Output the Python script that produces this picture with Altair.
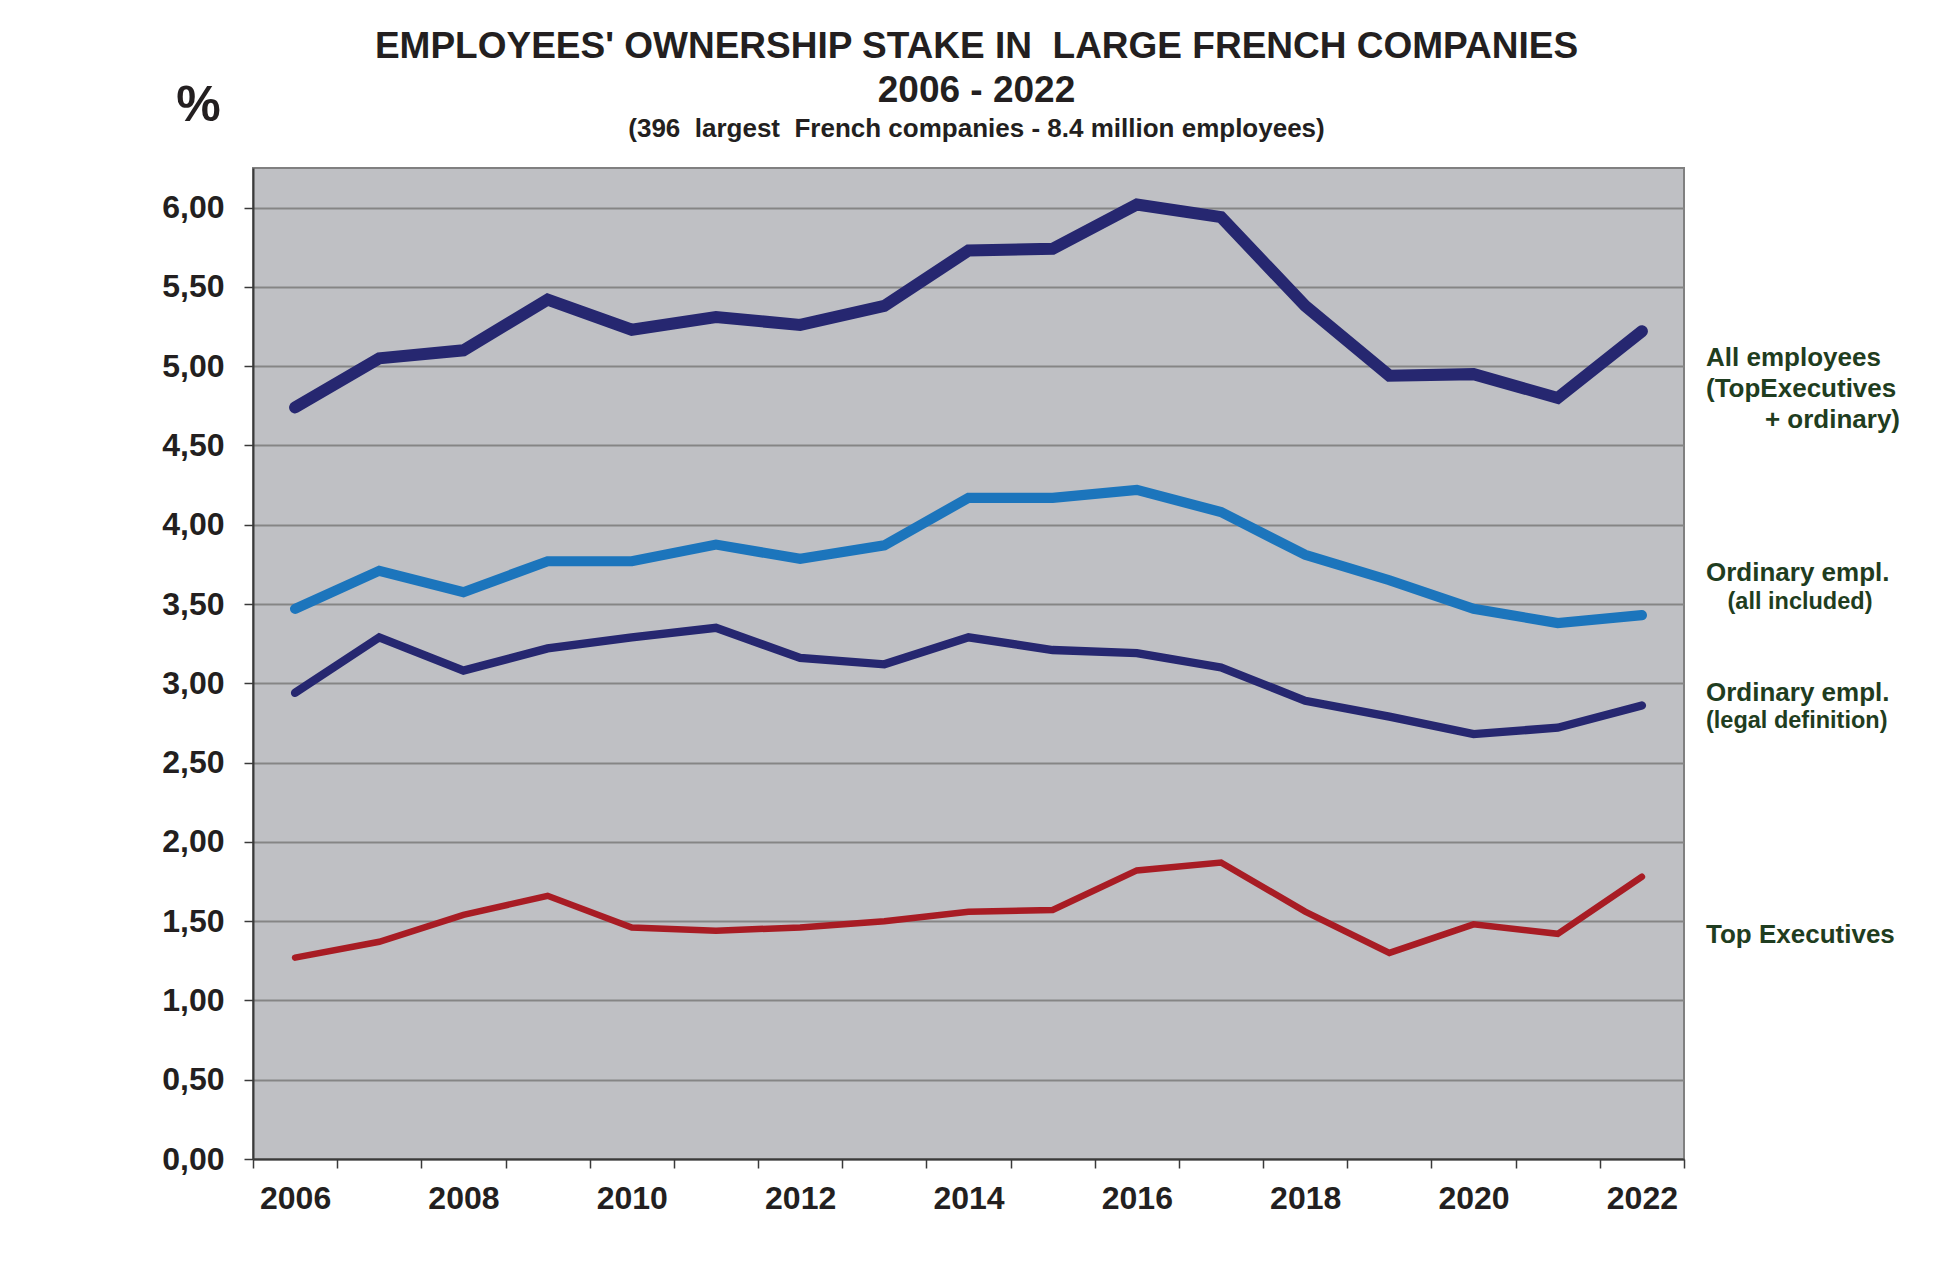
import altair as alt
import pandas as pd

# ---- data ----
years = list(range(2006, 2023))
all_employees = [4.74, 5.05, 5.10, 5.42, 5.23, 5.31, 5.26, 5.38, 5.73, 5.74, 6.02, 5.94, 5.38, 4.94, 4.95, 4.80, 5.22]
ordinary_all = [3.47, 3.71, 3.575, 3.77, 3.77, 3.875, 3.785, 3.87, 4.17, 4.17, 4.22, 4.08, 3.81, 3.65, 3.47, 3.38, 3.43]
ordinary_legal = [2.94, 3.29, 3.08, 3.22, 3.29, 3.35, 3.16, 3.12, 3.29, 3.21, 3.19, 3.10, 2.89, 2.79, 2.68, 2.72, 2.86]
top_executives = [1.27, 1.37, 1.54, 1.66, 1.46, 1.44, 1.46, 1.50, 1.56, 1.57, 1.82, 1.87, 1.56, 1.30, 1.48, 1.42, 1.78]

series_names = ["All employees", "Ordinary all", "Ordinary legal", "Top Executives"]
series_colors = ["#262770", "#1C75BC", "#262770", "#A81C24"]
series_widths = [12, 6.5, 6, 6.5]

year_labels = [2006, 2008, 2010, 2012, 2014, 2016, 2018, 2020, 2022]
y_ticks = [0, 0.5, 1, 1.5, 2, 2.5, 3, 3.5, 4, 4.5, 5, 5.5, 6]

# double spaces kept visible with a non-breaking space
title_lines = ["EMPLOYEES' OWNERSHIP STAKE IN \u00a0LARGE FRENCH COMPANIES", "2006 - 2022"]
subtitle_text = "(396 \u00a0largest \u00a0French companies - 8.4 million employees)"

ann_left_text = ["All employees", "(TopExecutives", "Ordinary empl.", "Ordinary empl.", "(legal definition)", "Top Executives"]
ann_left_y = [190, 221, 405, 525, 553, 767]
ann_left_size = [26, 26, 26, 26, 23.5, 26]
ann_right_text = ["+ ordinary)"]
ann_right_y = [252]
ann_center_text = ["(all included)"]
ann_center_y = [434]

W, H = 1431, 991
FONT = "Liberation Sans"
TXT = "#231F20"
GREEN = "#1F3D20"

rows = []
for name, vals in zip(series_names, [all_employees, ordinary_all, ordinary_legal, top_executives]):
    for yr, v in zip(years, vals):
        rows.append({"year": yr, "value": v, "series": name})
df = pd.DataFrame(rows)

xscale = alt.Scale(domain=[2005.5, 2022.5], nice=False, zero=False)
yscale = alt.Scale(domain=[0, 6.25], nice=False)

tick_axis = alt.Axis(
    orient="bottom", values=[2005.5 + i for i in range(18)], labels=False, grid=False,
    ticks=True, tickSize=9, tickColor="#3a3a3a", tickWidth=1.5,
    domain=True, domainColor="#3a3a3a", domainWidth=2, title=None,
)
label_axis = alt.Axis(
    orient="bottom", values=year_labels, format="d", ticks=False, tickSize=0, domain=False,
    grid=False, labelFontSize=32, labelFont=FONT, labelFontWeight="bold", labelColor=TXT,
    labelPadding=24, labelBaseline="top", title=None,
)
y_axis = alt.Axis(
    values=y_ticks, labelExpr="replace(format(datum.value, '.2f'), '.', ',')",
    labelFontSize=32, labelFont=FONT, labelFontWeight="bold", labelColor=TXT, labelPadding=20,
    tickSize=9, tickColor="#3a3a3a", tickWidth=1.5,
    domain=True, domainColor="#3a3a3a", domainWidth=2,
    grid=True, gridColor="#858585", gridWidth=2,
    title="%", titleAngle=0, titleX=-55, titleY=-48, titleAlign="center",
    titleBaseline="alphabetic", titleFontSize=50, titleFont=FONT, titleFontWeight="bold",
    titleColor=TXT,
)

lines = alt.Chart(df).mark_line(strokeCap="round", strokeJoin="miter").encode(
    x=alt.X("year:Q", scale=xscale, axis=tick_axis),
    y=alt.Y("value:Q", scale=yscale, axis=y_axis),
    color=alt.Color("series:N", scale=alt.Scale(domain=series_names, range=series_colors), legend=None),
    strokeWidth=alt.StrokeWidth("series:N", scale=alt.Scale(domain=series_names, range=series_widths), legend=None),
    detail="series:N",
)

year_df = pd.DataFrame({"year": years})
labels_layer = alt.Chart(year_df).mark_point(opacity=0).encode(
    x=alt.X("year:Q", scale=xscale, axis=label_axis),
)

ann_left = alt.Chart(pd.DataFrame({"t": ann_left_text, "py": ann_left_y, "fs": ann_left_size})).mark_text(
    align="left", baseline="middle", font=FONT, fontWeight="bold", color=GREEN
).encode(
    x=alt.value(W + 22), y=alt.Y("py:Q", scale=None), text="t:N", size=alt.Size("fs:Q", scale=None)
)
ann_right = alt.Chart(pd.DataFrame({"t": ann_right_text, "py": ann_right_y})).mark_text(
    align="right", baseline="middle", font=FONT, fontWeight="bold", color=GREEN, fontSize=26
).encode(x=alt.value(W + 216), y=alt.Y("py:Q", scale=None), text="t:N")
ann_center = alt.Chart(pd.DataFrame({"t": ann_center_text, "py": ann_center_y})).mark_text(
    align="center", baseline="middle", font=FONT, fontWeight="bold", color=GREEN, fontSize=23.5
).encode(x=alt.value(W + 116), y=alt.Y("py:Q", scale=None), text="t:N")

chart = alt.layer(lines, labels_layer, ann_left, ann_right, ann_center).resolve_axis(
    x="independent"
).properties(
    width=W, height=H,
    background="white",
    autosize=alt.AutoSizeParams(type="none"),
    padding={"left": 245, "top": 160, "right": 245, "bottom": 88},
    title=alt.TitleParams(
        text=title_lines, subtitle=subtitle_text, anchor="middle", dx=8, dy=89,
        font=FONT, fontSize=37, fontWeight="bold", color=TXT, lineHeight=44,
        subtitleFont=FONT, subtitleFontSize=26, subtitleFontWeight="bold", subtitleColor=TXT,
        subtitlePadding=6, offset=26,
    ),
).configure_view(
    fill="#BFC0C4", stroke="#808080", strokeWidth=2
)

chart.save("out.html", embed_options={"renderer": "svg", "actions": False})
